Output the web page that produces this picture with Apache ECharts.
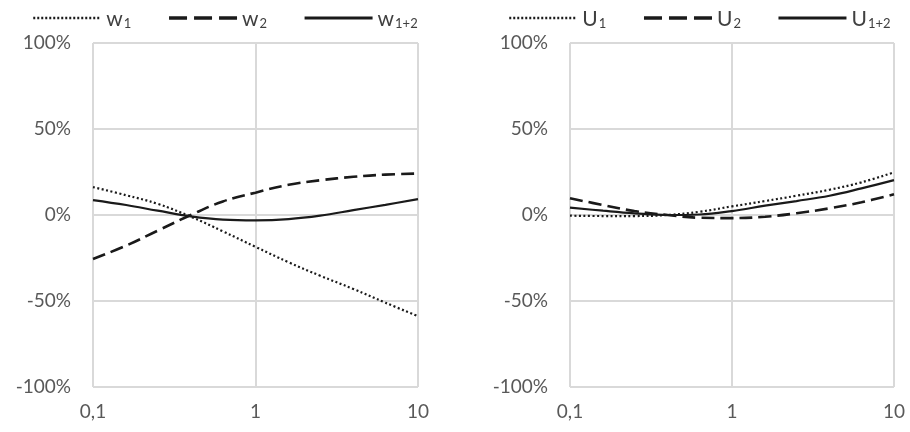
<!DOCTYPE html>
<html>
<head>
<meta charset="utf-8">
<script src="https://cdn.jsdelivr.net/npm/echarts@6/dist/echarts.min.js"></script>
<style>
  html, body { margin: 0; padding: 0; background: #fff; }
  #chart { width: 910px; height: 432px; }
</style>
</head>
<body>
<div id="chart"></div>
<script>
// x positions (log axis)
const xs = [0.1, 0.16, 0.25, 0.4, 0.63, 1, 1.6, 2.5, 4, 6.3, 10];

// left panel (%)
const w1  = [16.2, 11.5, 6.5, -1, -9.5, -18.5, -27.5, -35.3, -43, -51, -58.8];
const w2  = [-25.6, -17.8, -9.1, 0, 7.9, 13, 17.6, 20.2, 22.2, 23.5, 24.1];
const w12 = [8.7, 5.8, 2.5, -0.8, -2.7, -3.1, -2.4, -0.4, 2.8, 5.9, 9.2];

// right panel (%)
const u1  = [-0.4, -0.6, -0.6, 0, 1.9, 5, 8.1, 11.2, 14.7, 19, 24.8];
const u2  = [9.7, 5.8, 2.3, 0, -1.6, -1.8, -1, 1, 3.9, 7.4, 12];
const u12 = [4.3, 2.5, 1, 0, 0.3, 2.3, 5.4, 8.1, 11.2, 15.5, 20.3];

const yTicks = [-100, -50, 0, 50, 100];

const gridCol = '#d9d9d9';
const labCol = '#595959';
const font = 'Lato, "Open Sans", sans-serif';

function pair(vals) {
    return xs.map((x, i) => [x, vals[i]]);
}

const styles = {
    dot:  { type: [2, 2.5], width: 2.2 },
    dash: { type: [13, 6], width: 2.6 },
    solid: { type: 'solid', width: 2.2 }
};

function ser(name, vals, idx, st) {
    return {
        name: name,
        type: 'line',
        xAxisIndex: idx,
        yAxisIndex: idx,
        data: pair(vals),
        smooth: 0.4,
        symbol: 'none',
        color: '#1a1a1a',
        lineStyle: Object.assign({ color: '#1a1a1a' }, styles[st])
    };
}

function xAx(idx) {
    return {
        gridIndex: idx,
        type: 'log',
        logBase: 10,
        min: 0.1,
        max: 10,
        axisLine: { show: false },
        axisTick: { show: false },
        splitLine: { show: true, lineStyle: { color: gridCol, width: 2 } },
        axisLabel: {
            color: labCol, fontSize: 19, fontFamily: font, margin: 15,
            formatter: v => String(v).replace('.', ',')
        }
    };
}

function yAx(idx) {
    return {
        gridIndex: idx,
        type: 'value',
        min: yTicks[0],
        max: yTicks[yTicks.length - 1],
        interval: 50,
        axisLine: { show: false },
        axisTick: { show: false },
        splitLine: { show: true, lineStyle: { color: gridCol, width: 2 } },
        axisLabel: {
            color: labCol, fontSize: 19, fontFamily: font, margin: 22,
            formatter: '{value}%'
        }
    };
}

const subRich = {
    m: { fontSize: 21, color: '#404040', fontFamily: font, lineHeight: 24, verticalAlign: 'bottom' },
    s: { fontSize: 13, color: '#404040', fontFamily: font, lineHeight: 24, verticalAlign: 'bottom', padding: [0, 0, 0, 1] }
};

function legendFmt(name) {
    return '{m|' + name.charAt(0) + '}{s|' + name.slice(1) + '}';
}

function leg(names, left) {
    return {
        data: [
            { name: names[0], lineStyle: { type: [2, 2], width: 2.5 } },
            { name: names[1], lineStyle: { type: [18, 7], width: 3.5 } },
            { name: names[2], lineStyle: { width: 3 } }
        ],
        left: left,
        top: 4,
        width: 420,
        itemWidth: 68,
        itemHeight: 14,
        itemGap: 36,
        formatter: legendFmt,
        itemStyle: { opacity: 0 },
        lineStyle: { width: 3 },
        textStyle: { rich: subRich }
    };
}

const chart = echarts.init(document.getElementById('chart'));
chart.setOption({
    animation: false,
    backgroundColor: '#fff',
    legend: [
        leg(['w1', 'w2', 'w1+2'], 27),
        leg(['U1', 'U2', 'U1+2'], 503)
    ],
    grid: [
        { left: 93, width: 325, top: 43, height: 344 },
        { left: 570, width: 324, top: 43, height: 344 }
    ],
    xAxis: [xAx(0), xAx(1)],
    yAxis: [yAx(0), yAx(1)],
    series: [
        ser('w1', w1, 0, 'dot'),
        ser('w2', w2, 0, 'dash'),
        ser('w1+2', w12, 0, 'solid'),
        ser('U1', u1, 1, 'dot'),
        ser('U2', u2, 1, 'dash'),
        ser('U1+2', u12, 1, 'solid')
    ]
});
</script>
</body>
</html>
